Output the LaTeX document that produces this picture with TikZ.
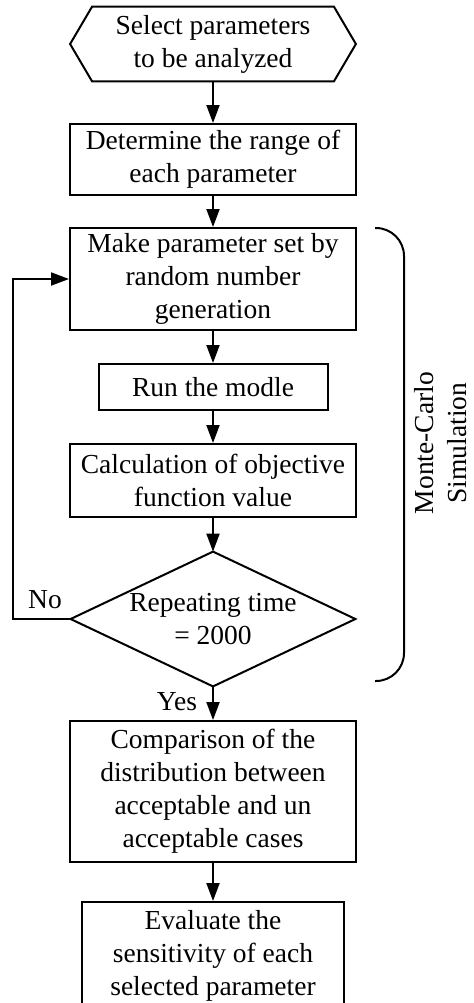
\documentclass[tikz,border=0pt]{standalone}
\usepackage{fontspec}
\setmainfont{Liberation Serif}
\usetikzlibrary{arrows.meta}

\begin{document}
\begin{tikzpicture}[x=0.5pt,y=-0.5pt,
  every node/.style={font=\fontsize{13.75}{16.5}\selectfont,align=center,inner sep=0pt},
  box/.style={draw,line width=1pt,minimum width=143pt},
  arr/.style={line width=1pt,-{Triangle[length=9pt,width=6.5pt]}}]
  \useasboundingbox (0,0) rectangle (474,1003);
  \def\cx{213}
  % main column
  \node[minimum width=142.5pt,minimum height=37pt] (sel) at (\cx,44) {Select parameters\\to be analyzed};
  \draw[line width=1pt] ([xshift=11pt]sel.north west) -- ([xshift=-11pt]sel.north east) -- (sel.east)
    -- ([xshift=-11pt]sel.south east) -- ([xshift=11pt]sel.south west) -- (sel.west) -- cycle;
  \node[box,minimum height=35.5pt] (rng) at (\cx,159.5) {Determine the range of\\each parameter};
  \node[box,minimum height=51pt] (mk) at (\cx,279) {Make parameter set by\\random number\\generation};
  \node[box,minimum width=114.5pt,minimum height=23pt] (run) at (\cx,387) {Run the modle};
  \node[box,minimum height=36.5pt] (calc) at (\cx,480.5) {Calculation of objective\\function value};
  \node[minimum width=142pt,minimum height=67pt] (rep) at (\cx,619) {Repeating time\\= 2000};
  \draw[line width=1pt] (rep.north) -- (rep.east) -- (rep.south) -- (rep.west) -- cycle;
  \node[box,minimum height=70.5pt] (cmp) at (\cx,791.5) {Comparison of the\\distribution between\\acceptable and un\\acceptable cases};
  \node[box,minimum width=131pt,minimum height=54pt] (eva) at (\cx,956) {Evaluate the\\sensitivity of each\\selected parameter};
  \draw[arr] (sel) -- (rng);
  \draw[arr] (rng) -- (mk);
  \draw[arr] (mk) -- (run);
  \draw[arr] (run) -- (calc);
  \draw[arr] (calc) -- (rep.north);
  \draw[arr] (rep.south) -- (cmp);
  \draw[arr] (cmp) -- (eva);
  % loop back
  \coordinate (back) at (13,619);
  \draw[arr] (rep.west) -- (back) |- (mk.west);
  \node (no) at (45,600) {No};
  \node (yes) at (177,702) {Yes};
  % bracket
  \draw[line width=1pt,rounded corners=14pt] (375,228) -- (404,228) -- (404,681) -- (375,681);
  \node[rotate=90] (mc) at (441,443) {Monte-Carlo\\Simulation};
\end{tikzpicture}
\end{document}
